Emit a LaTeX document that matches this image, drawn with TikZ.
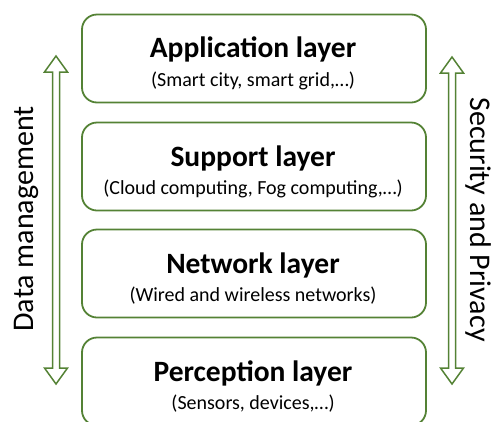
\documentclass[tikz,border=0pt]{standalone}
\usepackage{fontspec}
\setmainfont{Carlito}
\usetikzlibrary{calc}
\definecolor{lgreen}{RGB}{84,130,53}
\tikzset{
  layerbox/.style={draw=lgreen, line width=1.8pt, rounded corners=15pt, minimum width=344pt, minimum height=88pt, inner sep=0pt},
  layertitle/.style={font=\fontsize{29.5}{31}\selectfont\bfseries, anchor=base, inner sep=0pt},
  layersub/.style={font=\fontsize{20}{22}\selectfont, anchor=base, inner sep=0pt},
  sidetext/.style={font=\fontsize{30}{32}\selectfont, anchor=base, inner sep=0pt},
  dblarrowline/.style={draw=lgreen, line width=1.5pt, line join=miter}
}
\newcommand{\mydblarrow}[3]{%
  \draw[dblarrowline] (#1,-#2) -- ++(-11.5,-16) -- ++(8,0) -- (#1-3.5,-#3+16) -- ++(-8,0) -- (#1,-#3) -- (#1+11.5,-#3+16) -- ++(-8,0) -- (#1+3.5,-#2-16) -- ++(8,0) -- cycle;}
\begin{document}
\begin{tikzpicture}[x=1pt,y=1pt]
\useasboundingbox (0,0) rectangle (492,-421);
\clip (0,0) rectangle (492,-421);
\node[layerbox] (app) at (254,-58.5) {};
\node[layerbox] (sup) at (254,-166.5) {};
\node[layerbox] (net) at (254,-273.5) {};
\node[layerbox] (per) at (254,-381.5) {};
\node[layertitle] (appt) at (253,-57) {Application layer};
\node[layersub] (apps) at (253,-86) {(Smart city, smart grid,…)};
\node[layertitle] (supt) at (253,-166) {Support layer};
\node[layersub] (sups) at (253,-194) {(Cloud computing, Fog computing,…)};
\node[layertitle] (nett) at (253,-273) {Network layer};
\node[layersub] (nets) at (253,-301) {(Wired and wireless networks)};
\node[layertitle] (pert) at (253,-381) {Perception layer};
\node[layersub] (pers) at (253,-409) {(Sensors, devices,…)};
\mydblarrow{56}{56}{384}
\mydblarrow{452}{57}{384}
\node[sidetext, rotate=90] (dm) at (33,-219) {Data management};
\node[sidetext, rotate=-90] (sp) at (470,-219.5) {Security and Privacy};
\end{tikzpicture}
\end{document}
